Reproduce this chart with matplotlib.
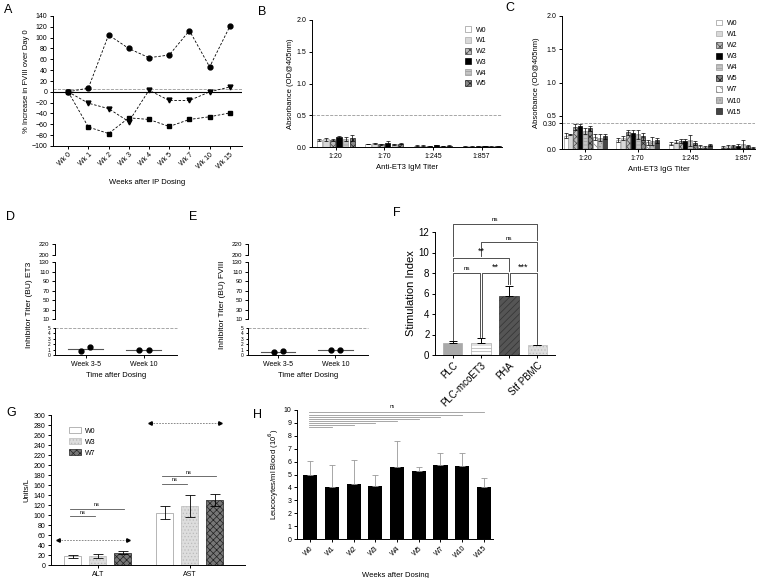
import numpy as np
import matplotlib.pyplot as plt

plt.rcParams['font.family'] = ['Liberation Sans', 'DejaVu Sans']
plt.rcParams['hatch.linewidth'] = 0.5
plt.rcParams['axes.linewidth'] = 0.7
plt.rcParams['xtick.major.width'] = 0.7
plt.rcParams['ytick.major.width'] = 0.7
plt.rcParams['xtick.major.size'] = 2.5
plt.rcParams['ytick.major.size'] = 2.5

W, H = 757, 578

# ---- data ----
a_weeks = ['Wk 0', 'Wk 1', 'Wk 2', 'Wk 3', 'Wk 4', 'Wk 5', 'Wk 7', 'Wk 10', 'Wk 15']
a_circle = [0, 7, 105, 80, 63, 68, 113, 46, 121]
a_square = [0, -65, -77, -48, -51, -64, -51, -46, -39]
a_triangle = [0, -21, -31, -55, 3, -16, -16, 0, 9]

titers = ['1:20', '1:70', '1:245', '1:857']
b_weeks = ['W0', 'W1', 'W2', 'W3', 'W4', 'W5']
b_vals = [[0.11, 0.05, 0.02, 0.01],
          [0.12, 0.06, 0.02, 0.01],
          [0.11, 0.04, 0.015, 0.01],
          [0.15, 0.07, 0.025, 0.015],
          [0.12, 0.04, 0.015, 0.01],
          [0.14, 0.05, 0.02, 0.01]]
b_err = [[0.02, 0.005, 0.005, 0.003],
         [0.02, 0.01, 0.005, 0.003],
         [0.01, 0.01, 0.005, 0.003],
         [0.03, 0.02, 0.008, 0.005],
         [0.03, 0.01, 0.005, 0.003],
         [0.05, 0.01, 0.005, 0.003]]
b_cutoff = 0.5

c_weeks = ['W0', 'W1', 'W2', 'W3', 'W4', 'W5', 'W7', 'W10', 'W15']
c_vals = [[0.20, 0.14, 0.08, 0.03],
          [0.22, 0.17, 0.11, 0.04],
          [0.33, 0.25, 0.12, 0.04],
          [0.34, 0.24, 0.12, 0.05],
          [0.27, 0.22, 0.13, 0.07],
          [0.31, 0.19, 0.09, 0.04],
          [0.18, 0.10, 0.04, 0.02],
          [0.17, 0.12, 0.03, 0.02],
          [0.19, 0.13, 0.06, 0.02]]
c_err = [[0.04, 0.03, 0.02, 0.02],
         [0.01, 0.03, 0.02, 0.02],
         [0.05, 0.04, 0.03, 0.02],
         [0.03, 0.05, 0.03, 0.02],
         [0.04, 0.07, 0.08, 0.06],
         [0.04, 0.05, 0.03, 0.02],
         [0.04, 0.04, 0.02, 0.01],
         [0.05, 0.06, 0.02, 0.01],
         [0.04, 0.04, 0.02, 0.01]]
c_cutoff = 0.39
c_cutoff_label = '0.30'

de_times = ['Week 3-5', 'Week 10']
d_points = [[0.8, 1.45], [0.92, 0.92]]
e_points = [[0.6, 0.65], [1.0, 1.0]]

f_groups = ['PLC', 'PLC-mcoET3', 'PHA', 'Stf PBMC']
f_vals = [1.2, 1.2, 5.8, 1.0]
f_err = [0.2, 0.45, 0.95, 0.0]

g_tests = ['ALT', 'AST']
g_weeks = ['W0', 'W3', 'W7']
g_vals = [[18, 105], [18, 119], [25, 131]]
g_err = [[3, 13], [4, 22], [3, 12]]

h_weeks = ['W0', 'W1', 'W2', 'W3', 'W4', 'W5', 'W7', 'W10', 'W15']
h_vals = [5.0, 4.05, 4.25, 4.1, 5.55, 5.3, 5.75, 5.65, 4.0]
h_err = [1.05, 1.65, 1.9, 0.85, 2.05, 0.3, 0.95, 1.0, 0.7]


# ---- helpers ----
def box(l, t, r, b):
    return [l / W, 1 - b / H, (r - l) / W, (b - t) / H]


def clean(ax, fs=5):
    ax.spines['top'].set_visible(False)
    ax.spines['right'].set_visible(False)
    ax.tick_params(labelsize=fs, pad=1.5)


fig = plt.figure(figsize=(W / 100, H / 100), dpi=100)


def panel_label(x, y, s):
    fig.text(x / W, 1 - y / H, s, fontsize=9, ha='left', va='center')


# ---- A ----
ax = fig.add_axes(box(53, 16, 242, 146))
clean(ax)
xa = np.arange(len(a_weeks))
ax.axhline(0, color='black', lw=0.8)
ax.axhline(5, color='#999999', lw=0.6, ls='--')
ax.plot(xa, a_circle, 'k--', marker='o', ms=3.5, lw=0.6, dashes=(3, 2))
ax.plot(xa, a_square, 'k--', marker='s', ms=3.5, lw=0.6, dashes=(3, 2))
ax.plot(xa, a_triangle, 'k--', marker='v', ms=3.5, lw=0.6, dashes=(3, 2))
ax.set_ylim(-100, 140)
ax.set_yticks(np.arange(-100, 141, 20))
ax.set_xlim(-0.75, 8.6)
ax.set_xticks(xa)
ax.set_xticklabels(a_weeks, rotation=45, ha='right', rotation_mode='anchor')
ax.set_ylabel('% Increase in FVIII over Day 0', fontsize=5.5, labelpad=1)
ax.set_xlabel('Weeks after IP Dosing', fontsize=5.5, labelpad=6)
panel_label(4, 10, 'A')

# ---- B / C bar styles ----
styles = {
    'W0': dict(color='white', edgecolor='#999999', hatch=None),
    'W1': dict(color='#d8d8d8', edgecolor='#aaaaaa', hatch=None),
    'W2': dict(color='#bbbbbb', edgecolor='#444444', hatch='xxxxx'),
    'W3': dict(color='black', edgecolor='black', hatch=None),
    'W4': dict(color='#c4c4c4', edgecolor='#999999', hatch='-----'),
    'W5': dict(color='#888888', edgecolor='#222222', hatch='xxxxx'),
    'W7': dict(color='white', edgecolor='#777777', hatch='\\\\\\\\'),
    'W10': dict(color='#bbbbbb', edgecolor='#888888', hatch='.....'),
    'W15': dict(color='#444444', edgecolor='#222222', hatch=None),
}


def grouped(ax, weeks, vals, errs, step, width):
    n = len(weeks)
    xg = np.arange(len(titers))
    for i, wk in enumerate(weeks):
        st = styles[wk]
        off = (i - (n - 1) / 2) * step
        ax.bar(xg + off, vals[i], width, color=st['color'], edgecolor=st['edgecolor'],
               hatch=st['hatch'], lw=0.5, label=wk)
        ax.errorbar(xg + off, vals[i], yerr=errs[i], fmt='none', ecolor='black',
                    elinewidth=0.5, capsize=1.2, capthick=0.5)
    ax.set_xticks(xg)
    ax.set_xticklabels(titers)


ax = fig.add_axes(box(312, 20, 502, 147))
clean(ax)
grouped(ax, b_weeks, b_vals, b_err, 0.135, 0.11)
ax.axhline(b_cutoff, color='#999999', lw=0.6, ls='--')
ax.set_xlim(-0.49, 3.42)
ax.set_ylim(0, 2.0)
ax.set_yticks([0, 0.5, 1.0, 1.5, 2.0])
ax.set_yticklabels(['0.0', '0.5', '1.0', '1.5', '2.0'])
ax.set_ylabel('Absorbance (OD@405nm)', fontsize=5.5, labelpad=2)
ax.set_xlabel('Anti-ET3 IgM Titer', fontsize=5.5, labelpad=3)
ax.legend(loc='upper right', bbox_to_anchor=(0.95, 1.0), frameon=False, fontsize=5,
          handlelength=1.0, handleheight=0.9, labelspacing=0.5, handletextpad=0.6)
panel_label(258, 12, 'B')

ax = fig.add_axes(box(562, 16, 755, 149))
clean(ax)
grouped(ax, c_weeks, c_vals, c_err, 0.093, 0.075)
ax.axhline(c_cutoff, color='#999999', lw=0.6, ls='--')
ax.set_xlim(-0.44, 3.23)
ax.set_ylim(0, 2.0)
ax.set_yticks([0, c_cutoff, 0.5, 1.0, 1.5, 2.0])
ax.set_yticklabels(['0.0', c_cutoff_label, '0.5', '1.0', '1.5', '2.0'])
ax.set_ylabel('Absorbance (OD@405nm)', fontsize=5.5, labelpad=2)
ax.set_xlabel('Anti-ET3 IgG Titer', fontsize=5.5, labelpad=3)
ax.legend(loc='upper right', bbox_to_anchor=(0.96, 1.02), frameon=False, fontsize=5,
          handlelength=1.0, handleheight=0.9, labelspacing=0.55, handletextpad=0.6)
panel_label(505, 8, 'C')


# ---- D / E broken axes ----
def broken(left, right, points, ylabel):
    top = fig.add_axes(box(left, 244, right, 255))
    mid = fig.add_axes(box(left, 262, right, 319))
    low = fig.add_axes(box(left, 327.7, right, 355))
    for a in (top, mid, low):
        clean(a, fs=4.5)
        a.set_xlim(-0.53, 1.57)
    for a in (top, mid):
        a.spines['bottom'].set_visible(False)
        a.set_xticks([])
        a.patch.set_alpha(0)
    top.set_ylim(200, 220)
    top.set_yticks([200, 220])
    mid.set_ylim(10, 130)
    mid.set_yticks(np.arange(10, 131, 20))
    low.set_ylim(0, 5)
    low.set_yticks(np.arange(0, 6, 1))
    low.tick_params(axis='y', labelsize=3.5, length=1.5)
    low.tick_params(axis='x', labelsize=5)
    low.axhline(5, color='#999999', lw=0.6, ls='--', clip_on=False)
    for i, pts in enumerate(points):
        mean = np.mean(pts)
        low.plot([i - 0.3, i + 0.3], [mean, mean], color='#555555', lw=0.8)
        low.plot([i - 0.08, i + 0.08], pts, 'o', color='black', ms=3.5, ls='none')
    low.set_xticks(range(len(de_times)))
    low.set_xticklabels(de_times)
    low.set_xlabel('Time after Dosing', fontsize=5.5, labelpad=3)
    mid.set_ylabel(ylabel, fontsize=6, labelpad=2)
    mid.yaxis.set_label_coords(-0.18, 0.25)


broken(55, 177, d_points, 'Inhibitor Titer (BU) ET3')
broken(248, 368, e_points, 'Inhibitor Titer (BU) FVIII')
panel_label(6, 217, 'D')
panel_label(189, 217, 'E')

# ---- F ----
ax = fig.add_axes(box(435, 232, 555, 355))
clean(ax, fs=7)
xf = np.arange(len(f_groups))
f_styles = [dict(color='#a9a9a9', edgecolor='#a9a9a9', hatch=None),
            dict(color='white', edgecolor='#aaaaaa', hatch='-----'),
            dict(color='#555555', edgecolor='#333333', hatch='/////'),
            dict(color='#dddddd', edgecolor='#bbbbbb', hatch='.....')]
for i in range(len(f_groups)):
    ax.bar(xf[i], f_vals[i], 0.68, lw=0.5, **f_styles[i])
ax.errorbar(xf, f_vals, yerr=[np.zeros(4), f_err], fmt='none', ecolor='black',
            elinewidth=0.7, capsize=3, capthick=0.7)
ax.set_ylim(0, 12)
ax.set_yticks(np.arange(0, 13, 2))
ax.set_xlim(-0.64, 3.64)
ax.set_xticks(xf)
ax.set_xticklabels(f_groups, rotation=45, ha='right', rotation_mode='anchor')
ax.set_ylabel('Stimulation Index', fontsize=8, labelpad=2)


def bracket(ax, x1, x2, y, y1, y2, s, fs):
    ax.plot([x1, x1, x2, x2], [y1, y, y, y2], color='#333333', lw=0.6, clip_on=False)
    ax.text((x1 + x2) / 2, y + 0.15, s, ha='center', va='bottom', fontsize=fs)


bracket(ax, 0.0, 0.97, 8.0, 1.5, 1.8, 'ns', 4.5)
bracket(ax, 1.03, 1.97, 8.0, 1.8, 6.9, '**', 6.5)
bracket(ax, 2.03, 3.0, 8.0, 6.9, 1.1, '***', 6.5)
bracket(ax, 0.0, 2.0, 9.5, 8.2, 8.2, '**', 6.5)
bracket(ax, 1.0, 3.0, 11.0, 9.7, 8.2, 'ns', 4.5)
bracket(ax, 0.0, 3.0, 12.8, 9.7, 11.2, 'ns', 4.5)
panel_label(393, 213, 'F')

# ---- G ----
ax = fig.add_axes(box(51, 415, 245, 565))
clean(ax)
xg = np.arange(len(g_tests))
g_styles = [dict(color='white', edgecolor='#999999', hatch=None),
            dict(color='#dddddd', edgecolor='#bbbbbb', hatch='.....'),
            dict(color='#777777', edgecolor='#222222', hatch='xxxxx')]
for i, wk in enumerate(g_weeks):
    off = (i - 1) * 0.272
    ax.bar(xg + off, g_vals[i], 0.185, lw=0.5, label=wk, **g_styles[i])
    ax.errorbar(xg + off, g_vals[i], yerr=g_err[i], fmt='none', ecolor='black',
                elinewidth=0.6, capsize=3.5, capthick=0.6)
for c, y in zip(xg, [50, 285]):
    ax.plot([c - 0.43, c + 0.33], [y, y], ls='--', color='#777777', lw=0.6, dashes=(2, 1.5))
    ax.plot(c - 0.43, y, marker='<', color='black', ms=2.5)
    ax.plot(c + 0.33, y, marker='>', color='black', ms=2.5)
for c, y0 in zip(xg, [98, 163]):
    ax.plot([c - 0.30, c - 0.03], [y0, y0], color='#555555', lw=0.6)
    ax.text(c - 0.165, y0 + 3, 'ns', ha='center', va='bottom', fontsize=4)
    ax.plot([c - 0.30, c + 0.28], [y0 + 15, y0 + 15], color='#555555', lw=0.6)
    ax.text(c - 0.01, y0 + 18, 'ns', ha='center', va='bottom', fontsize=4)
ax.set_ylim(0, 300)
ax.set_yticks(np.arange(0, 301, 20))
ax.set_xlim(-0.51, 1.6)
ax.set_xticks(xg)
ax.set_xticklabels(g_tests)
ax.set_ylabel('Units/L', fontsize=5.5, labelpad=2)
ax.legend(loc='upper left', bbox_to_anchor=(0.06, 0.96), frameon=False, fontsize=5,
          handlelength=1.8, handleheight=1.0, labelspacing=0.5, handletextpad=0.5)
panel_label(6, 413, 'G')

# ---- H ----
ax = fig.add_axes(box(297, 410, 493, 539))
clean(ax)
xh = np.arange(len(h_weeks))
ax.bar(xh, h_vals, 0.65, color='black')
ax.errorbar(xh, h_vals, yerr=[np.zeros(len(xh)), h_err], fmt='none', ecolor='#999999',
            elinewidth=0.6, capsize=2.5, capthick=0.6)
for k in range(1, len(xh)):
    y = 8.66 + (k - 1) * 0.165
    ax.plot([-0.05, k], [y, y], color='#999999', lw=0.6)
ax.text(3.8, 10.05, 'ns', ha='center', va='bottom', fontsize=3.5)
ax.set_ylim(0, 10)
ax.set_yticks(np.arange(0, 11, 1))
ax.set_xlim(-0.61, 8.42)
ax.set_xticks(xh)
ax.set_xticklabels(h_weeks, rotation=45, ha='right', rotation_mode='anchor')
ax.set_ylabel('Leucocytes/ml Blood (10$^6$)', fontsize=5.5, labelpad=2)
ax.set_xlabel('Weeks after Dosing', fontsize=5.5, labelpad=9)
panel_label(253, 415, 'H')

fig.savefig('out.png', dpi=100)
